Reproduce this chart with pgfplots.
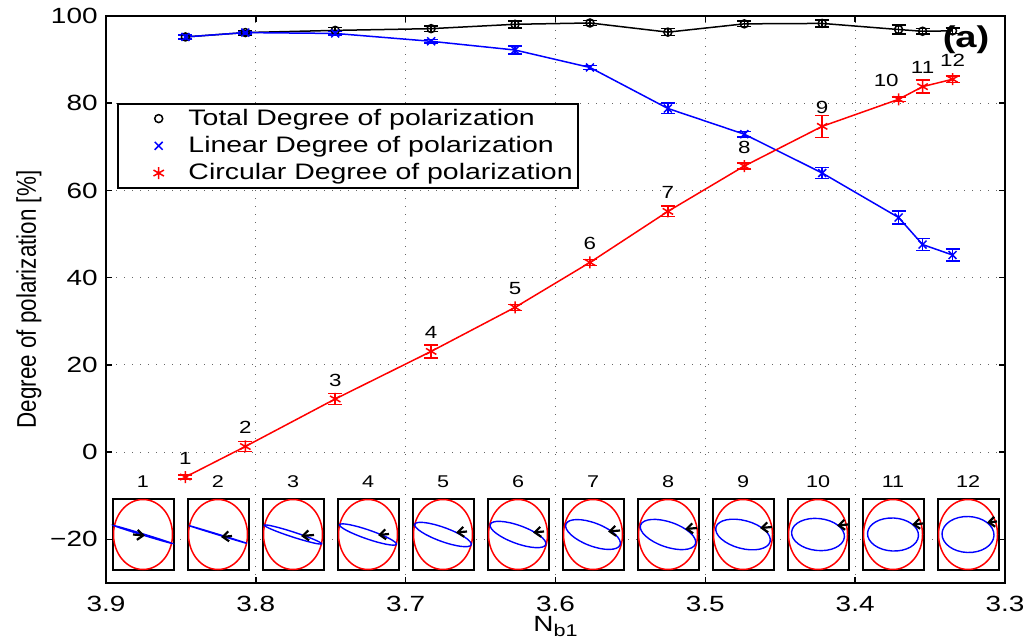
\documentclass[border=0pt]{standalone}
\usepackage{fontspec}
\setmainfont{Liberation Sans}[FakeStretch=1.27]
\newfontfamily\yfont{Liberation Sans}[FakeStretch=0.83]
\usepackage{pgfplots}
\pgfplotsset{compat=1.18}
\usepackage{pgfplotstable}
\usetikzlibrary{arrows.meta}

% total degree
\pgfplotstableread{
x     y     e
3.847 95.2  0.6
3.807 96.2  0.5
3.747 96.7  0.7
3.683 97.1  0.6
3.627 98.1  0.8
3.577 98.4  0.6
3.525 96.3  0.8
3.474 98.2  0.6
3.422 98.3  0.8
3.371 96.9  1.0
3.355 96.5  0.6
3.335 96.6  0.6
}\tot

% linear degree
\pgfplotstableread{
x     y     e
3.847 95.2  0.5
3.807 96.2  0.3
3.747 96.0  0.4
3.683 94.2  0.4
3.627 92.2  0.9
3.577 88.2  0.5
3.525 78.8  1.2
3.474 72.9  0.6
3.422 64.0  1.3
3.371 53.8  1.5
3.355 47.6  1.4
3.335 45.2  1.4
}\lin

% circular degree
\pgfplotstableread{
x     y     e    lab
3.847 -5.7  0.5  1
3.807 1.3   1.1  2
3.747 12.2  1.3  3
3.683 23.1  1.5  4
3.627 33.2  0.7  5
3.577 43.5  0.7  6
3.525 55.2  1.2  7
3.474 65.6  0.7  8
3.422 74.7  2.5  9
3.371 80.9  0.5  {10\hphantom{10}}
3.355 83.8  1.5  11
3.335 85.5  0.8  12
}\circ

\begin{document}
\begin{tikzpicture}
\useasboundingbox (-53pt,-30pt) rectangle (460pt,291.5pt);
\begin{axis}[
    name=ax, at={(0,0)}, anchor=south west,
    scale only axis, width=449.5pt, height=283.5pt,
    x dir=reverse,
    xmin=3.3, xmax=3.9, ymin=-30, ymax=100,
    xtick={3.3,3.4,3.5,3.6,3.7,3.8,3.9},
    xticklabels={3.3,3.4,3.5,3.6,3.7,3.8,3.9},
    ytick={-20,0,20,40,60,80,100},
    yticklabels={−20,0,20,40,60,80,100},
    tick label style={font=\fontsize{11}{12}\selectfont},
    xticklabel style={anchor=base, inner ysep=0pt, yshift=-14pt},
    yticklabel style={anchor=east, inner xsep=0pt, xshift=-4pt},
    grid=major,
    major grid style={black!60, line width=0.55pt, dash pattern=on 0.6pt off 3.4pt},
    axis line style={line width=1pt},
    major tick length=3pt,
    every tick/.style={black, line width=0.8pt},
    xlabel={N\raisebox{-0.45ex}{\fontsize{8.5}{10}\selectfont b1}},
    xlabel style={at={(axis description cs:0.5,0)}, anchor=base, inner sep=0pt, yshift=-24pt, font=\fontsize{11}{13}\selectfont},
    ylabel={Degree of polarization [\%]},
    ylabel style={at={(axis description cs:-0.0857,0.5)}, anchor=center, font=\fontsize{13.5}{15}\yfont},
    error bars/y dir=both, error bars/y explicit,
    error bars/error bar style={line width=0.75pt},
    error bars/error mark options={rotate=90, mark size=3.5pt, line width=0.75pt},
    legend image code/.code={\draw[#1, only marks] plot coordinates {(0pt,0pt)}; \path (-17.5pt,0pt) (14.5pt,0pt);},
    legend cell align=left,
    legend style={at={(0.0122,0.8466)}, anchor=north west, draw=black, line width=1pt,
        fill=white, font=\fontsize{11.2}{13}\selectfont, inner xsep=2.5pt, inner ysep=0.5pt,
        nodes={inner xsep=0pt, inner ysep=2pt}},
]
\addplot[color=black, line width=0.75pt, mark=o, mark size=2pt, mark options={solid, line width=0.75pt}]
    table[x=x, y=y, y error=e] {\tot};
\addplot[color=blue, line width=0.75pt, mark=x, mark size=2.8pt, mark options={solid, line width=0.75pt}]
    table[x=x, y=y, y error=e] {\lin};
\addplot[color=red, line width=0.75pt, mark=asterisk, mark size=3pt, mark options={solid, line width=0.75pt},
    nodes near coords, point meta=explicit symbolic,
    every node near coord/.append style={anchor=center, yshift=9.5pt, text=black, font=\fontsize{8.8}{10}\selectfont}]
    table[x=x, y=y, y error=e, meta=lab] {\circ};
\legend{Total Degree of polarization, Linear Degree of polarization, Circular Degree of polarization}
\node[font=\bfseries\fontsize{15}{16}\selectfont] at (axis cs:3.326,94.6) {(a)};
\end{axis}
% polarization ellipse insets
\begin{scope}[shift={(ax.south west)}, x=0.5pt, y=0.5pt]
\foreach \k/\a/\b/\ang/\tip/\tail/\dy in {
 1/30/0.6/-17/2/-10/0,
 2/30/0.3/-17/3/14/-1.5,
 3/30/2.5/-18/8/21/-0.5,
 4/30/4.5/-19/10/21/0.5,
 5/30/7/-20/13/24/3,
 6/29.5/9/-20/15/26/3,
 7/29/11.5/-21/15/27/4,
 8/29/12.5/-19/17/29/6.5,
 9/28/14/-15/17/29/7.5,
 10/26.5/16/-6/19/30/10,
 11/25.5/16.5/-3/19/30/11,
 12/26/18/-2/19/29/13}{
 \pgfmathsetmacro\cx{37+75*(\k-1)}
 \filldraw[fill=white, draw=black, line width=1pt] (\cx-30.5,13) rectangle (\cx+30.5,84);
 \draw[red, line width=0.75pt] (\cx,48.5) ellipse [x radius=29.5, y radius=35];
 \draw[blue, line width=0.7pt, rotate around={\ang:(\cx,48.5)}] (\cx,48.5) ellipse [x radius=\a, y radius=\b];
 \draw[-{Straight Barb[length=3pt,width=5pt]}, line width=1.1pt] (\cx+\tail,48.5+\dy) -- (\cx+\tip,48.5+\dy-1);
 \node[font=\fontsize{8.5}{10}\selectfont] at (\cx,101) {\k};
}
\end{scope}
\end{tikzpicture}
\end{document}
